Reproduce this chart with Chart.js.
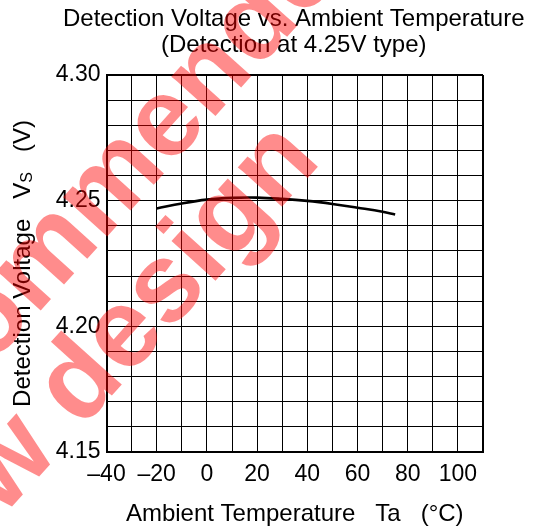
<!DOCTYPE html>
<html>
<head>
<meta charset="utf-8">
<script src="https://cdn.jsdelivr.net/npm/chart.js@4.4.1/dist/chart.umd.min.js"></script>
<style>
  body { margin: 0; background: #fff; }
  #wrap { width: 535px; height: 532px; }
</style>
</head>
<body>
<div id="wrap"><canvas id="chart"></canvas></div>
<script>
// Ta (°C) and detection voltage Vs (V)
const temps = [-20, -10, 0, 10, 20, 30, 40, 50, 60, 70, 75]
const voltages = [4.2469, 4.2489, 4.2504, 4.2511, 4.2512, 4.2507, 4.2499, 4.2487, 4.2472, 4.2456, 4.2445]

const xTickValues = [-40, -20, 0, 20, 40, 60, 80, 100]
const xTickLabels = ['\u201340', '\u201320', '0', '20', '40', '60', '80', '100']
const yTickValues = [415, 420, 425, 430]
const yTickLabels = ['4.15', '4.20', '4.25', '4.30']

const titleLines = ['Detection Voltage vs. Ambient Temperature', '(Detection at 4.25V type)']
const watermarkLines = ['Not recommended', 'for new design']

const FONT = '"Liberation Sans", Arial, sans-serif'
Chart.defaults.font.family = FONT
Chart.defaults.color = '#000'

// title, y axis title (with subscript) and the red watermark
const textPlugin = {
    id: 'texts',
    afterDraw(chart) {
        const ctx = chart.ctx
        const area = chart.chartArea
        const mid = (area.left + area.right) / 2
        ctx.save()
        ctx.fillStyle = '#000'
        ctx.textAlign = 'center'
        ctx.textBaseline = 'middle'
        ctx.font = '24px ' + FONT
        ctx.fillText(titleLines[0], mid - 1, 19)
        ctx.fillText(titleLines[1], mid - 1, 45)

        // Detection Voltage   Vs   (V)
        ctx.translate(23, (area.top + area.bottom) / 2)
        ctx.rotate(-Math.PI / 2)
        const big = '24px ' + FONT
        const small = '16px ' + FONT
        const parts = [
            { t: 'Detection Voltage   V', f: big, dy: 0 },
            { t: 'S', f: small, dy: 5 },
            { t: '   (V)', f: big, dy: 0 }
        ]
        let total = 0
        parts.forEach(p => { ctx.font = p.f; p.w = ctx.measureText(p.t).width; total += p.w })
        ctx.textAlign = 'left'
        let x = -total / 2
        parts.forEach(p => {
            ctx.font = p.f
            ctx.fillText(p.t, x, p.dy)
            x += p.w
        })
        ctx.restore()

        ctx.save()
        ctx.fillStyle = 'rgba(255, 0, 0, 0.45)'
        ctx.font = 'bold 112px ' + FONT
        ctx.textAlign = 'left'
        ctx.textBaseline = 'alphabetic'
        ctx.translate(-294, 682)
        ctx.rotate(-48 * Math.PI / 180)
        ctx.fillText(watermarkLines[0], 38, 0)
        ctx.fillText(watermarkLines[1], 9, 110)
        ctx.restore()
    }
}

function edgeWidth(c) {
    return (c.index === 0 || c.index === c.scale.ticks.length - 1) ? 2 : 1
}

const ctx = document.getElementById('chart').getContext('2d')
const chart = new Chart(ctx, {
    type: 'line',
    data: {
        datasets: [{
            data: temps.map((t, i) => ({ x: t, y: voltages[i] })),
            borderColor: '#000',
            borderWidth: 2.6,
            pointRadius: 0,
            tension: 0.4,
            fill: false
        }]
    },
    options: {
        responsive: true,
        maintainAspectRatio: false,
        animation: false,
        layout: { padding: { top: 75, right: 52, left: 0, bottom: 0 } },
        plugins: {
            legend: { display: false },
            tooltip: { enabled: false },
            title: { display: false }
        },
        scales: {
            x: {
                type: 'linear',
                min: -40,
                max: 110,
                afterFit(scale) { scale.height = 80 },
                grid: { color: '#000', lineWidth: edgeWidth, drawTicks: false },
                border: { color: '#000', width: 2 },
                ticks: {
                    stepSize: 10,
                    autoSkip: false,
                    maxRotation: 0,
                    padding: 9,
                    font: { size: 23 },
                    callback: v => {
                        const i = xTickValues.indexOf(v)
                        return i >= 0 ? xTickLabels[i] : ''
                    }
                },
                title: {
                    display: true,
                    text: 'Ambient Temperature   Ta   (\u00b0C)',
                    font: { size: 24 },
                    padding: { top: 0, bottom: 3 }
                }
            },
            y: {
                min: 4.15,
                max: 4.30,
                afterFit(scale) { scale.width = 106.5 },
                grid: { color: '#000', lineWidth: edgeWidth, drawTicks: false },
                border: { color: '#000', width: 2 },
                ticks: {
                    stepSize: 0.01,
                    autoSkip: false,
                    padding: 6,
                    font: { size: 23 },
                    callback: v => {
                        const i = yTickValues.indexOf(Math.round(v * 100))
                        return i >= 0 ? yTickLabels[i] : ''
                    }
                }
            }
        }
    },
    plugins: [textPlugin]
})
</script>
</body>
</html>
